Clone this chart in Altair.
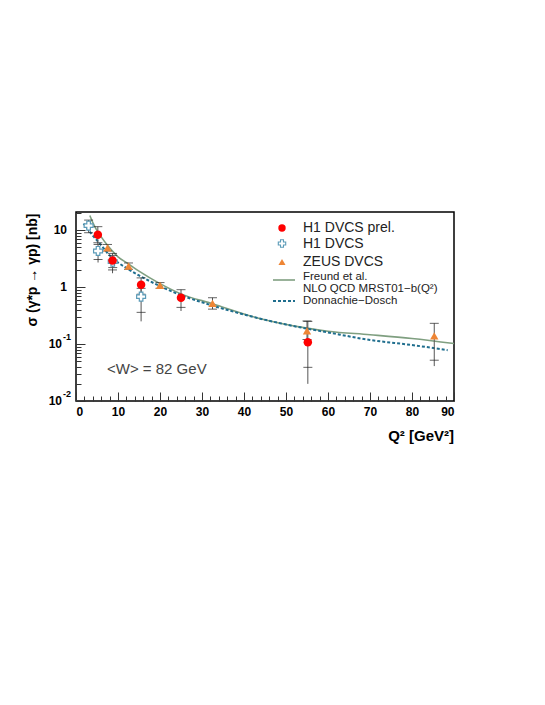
import altair as alt
import pandas as pd

FONT = "Liberation Sans"

# ---------------- data ----------------
# H1 DVCS prel. (red filled circles)
q2_h1prel = [5.2, 8.7, 15.5, 25.0, 55.2]
sig_h1prel = [8.3, 2.93, 1.10, 0.65, 0.107]
h1prel_stat_lo = [6.0, 2.0, 0.75, 0.44, 0.039]
h1prel_stat_hi = [11.5, 3.9, 1.45, 0.90, 0.25]
h1prel_tot_lo = [5.5, 1.75, 0.70, 0.38, 0.020]

# H1 DVCS (open crosses)
q2_h1 = [3.0, 5.25, 8.75, 15.5]
sig_h1 = [12.0, 4.3, 2.8, 0.68]
h1_lo = [9.0, 3.05, 2.2, 0.36]
h1_hi = [15.0, 5.6, 3.6, 0.95]
h1_tot_lo = [9.0, 2.7, 2.2, 0.25]

# ZEUS DVCS (orange triangles)
q2_zeus = [7.5, 12.5, 20.0, 32.5, 55.0, 85.3]
sig_zeus = [4.9, 2.33, 1.07, 0.52, 0.17, 0.139]
zeus_lo = [4.3, 2.05, 0.95, 0.41, 0.12, 0.052]
zeus_hi = [5.6, 2.65, 1.2, 0.65, 0.254, 0.231]
zeus_tot_lo = [4.3, 2.05, 0.95, 0.41, 0.12, 0.041]

# Freund et al. NLO QCD MRST01-b(Q2) (green solid)
q2_freund = [3.3, 4, 5, 6, 7.5, 10, 12.5, 15, 20, 25, 32.5, 43, 55, 60, 70, 80, 90]
sig_freund = [18, 13.5, 9.8, 7.6, 5.4, 3.4, 2.55, 1.9, 1.15, 0.76, 0.51, 0.29, 0.19,
              0.168, 0.146, 0.125, 0.102]

# Donnachie-Dosch (blue dashed)
q2_dd = [1.8, 3, 4, 5, 6, 8, 10, 12.5, 15, 20, 25, 30, 40, 50, 60, 70, 80, 88.5]
sig_dd = [13.0, 10.0, 8.0, 6.6, 5.4, 3.6, 2.7, 2.05, 1.6, 1.04, 0.72, 0.54, 0.33, 0.22,
          0.16, 0.118, 0.096, 0.078]

# axis ticks / labels
x_major = [0, 10, 20, 30, 40, 50, 60, 70, 80, 90]
x_minor = [v for v in range(2, 90, 2) if v % 10 != 0]
y_major = [0.01, 0.1, 1, 10]
y_minor = [m * d for d in (0.01, 0.1, 1) for m in range(2, 10)] + [20]
y_plain_vals = [10, 1]
y_plain_text = ["10", "1"]
y_exp_vals = [0.1, 0.01]
y_exp_base = ["10", "10"]
y_exp_sup = ["-1", "-2"]

legend_labels = ["H1 DVCS prel.", "H1 DVCS", "ZEUS DVCS", "Freund et al.",
                 "NLO QCD MRST01\u2212b(Q\u00b2)", "Donnachie\u2212Dosch"]

# ---------------- scales ----------------
xs = alt.Scale(domain=[0, 90], nice=False, zero=False)
ys = alt.Scale(type="log", domain=[0.01, 20.8], nice=False)

RED = "#ff0000"
ORANGE = "#ee8535"
CROSS = "#5b9bb8"
GREEN = "#7f9f80"
BLUE = "#1f6e8e"

freund = pd.DataFrame({"x": q2_freund, "y": sig_freund})
dd = pd.DataFrame({"x": q2_dd, "y": sig_dd})
h1prel = pd.DataFrame({"x": q2_h1prel, "y": sig_h1prel, "lo": h1prel_stat_lo,
                       "hi": h1prel_stat_hi, "tlo": h1prel_tot_lo})
h1 = pd.DataFrame({"x": q2_h1, "y": sig_h1, "lo": h1_lo, "hi": h1_hi, "tlo": h1_tot_lo})
zeus = pd.DataFrame({"x": q2_zeus, "y": sig_zeus, "lo": zeus_lo, "hi": zeus_hi,
                     "tlo": zeus_tot_lo})


def X(field="x"):
    return alt.X(f"{field}:Q", scale=xs, axis=None)


def Y(field="y"):
    return alt.Y(f"{field}:Q", scale=ys, axis=None)


layers = []

# curves
layers.append(alt.Chart(freund).mark_line(color=GREEN, strokeWidth=1.6, interpolate="monotone")
              .encode(x=X(), y=Y()))
layers.append(alt.Chart(dd).mark_line(color=BLUE, strokeWidth=2, strokeDash=[3, 2],
                                      interpolate="monotone")
              .encode(x=X(), y=Y()))


def errbars(df, color_line="#555555"):
    out = []
    out.append(alt.Chart(df).mark_rule(color=color_line, strokeWidth=1)
               .encode(x=X(), y=Y("tlo"), y2="hi:Q"))
    for f in ("lo", "hi"):
        out.append(alt.Chart(df).mark_tick(orient="horizontal", size=9, thickness=1,
                                           color="#222222")
                   .encode(x=X(), y=Y(f)))
    return out


layers += errbars(h1)
layers += errbars(zeus)
layers += errbars(h1prel)

layers.append(alt.Chart(h1).mark_point(shape="cross", filled=True, fill="white",
                                       stroke=CROSS, strokeWidth=1.2, size=80, opacity=1)
              .encode(x=X(), y=Y()))
layers.append(alt.Chart(zeus).mark_point(shape="triangle-up", filled=True, color=ORANGE,
                                         size=70, opacity=1)
              .encode(x=X(), y=Y()))
layers.append(alt.Chart(h1prel).mark_point(shape="circle", filled=True, color=RED,
                                           size=72, opacity=1)
              .encode(x=X(), y=Y()))

# ---------------- axes (labels + inward ticks) ----------------
xlab_axis = alt.Axis(values=x_major, ticks=False, domain=False, grid=False, title=None,
                     labelFont=FONT, labelFontWeight="bold", labelFontSize=12,
                     labelColor="black", labelPadding=5, orient="bottom")
xmaj_axis = alt.Axis(values=x_major, labels=False, ticks=True, tickSize=9, offset=-9,
                     domain=False, grid=False, title=None, tickColor="#333333",
                     orient="bottom")
xmin_axis = alt.Axis(values=x_minor, labels=False, ticks=True, tickSize=5, offset=-5,
                     domain=False, grid=False, title=None, tickColor="#333333",
                     orient="bottom")
ymaj_axis = alt.Axis(values=y_major, labels=False, ticks=True, tickSize=9, offset=-9,
                     domain=False, grid=False, title=None, tickColor="#333333",
                     orient="left")
ymin_axis = alt.Axis(values=y_minor, labels=False, ticks=True, tickSize=5, offset=-5,
                     domain=False, grid=False, title=None, tickColor="#333333",
                     orient="left")

for xa in (xlab_axis, xmaj_axis, xmin_axis):
    layers.append(alt.Chart(freund).mark_point(opacity=0)
                  .encode(x=alt.X("x:Q", scale=xs, axis=xa), y=Y()))
for ya in (ymaj_axis, ymin_axis):
    layers.append(alt.Chart(freund).mark_point(opacity=0)
                  .encode(x=X(), y=alt.Y("y:Q", scale=ys, axis=ya)))

# y tick labels as text
yplain = pd.DataFrame({"v": y_plain_vals, "t": y_plain_text})
yexp = pd.DataFrame({"v": y_exp_vals, "t": y_exp_base, "s": y_exp_sup})
layers.append(alt.Chart(yplain).mark_text(align="right", baseline="middle", font=FONT,
                                          fontWeight="bold", fontSize=12, color="black")
              .encode(x=alt.value(-9), y=Y("v"), text="t:N"))
layers.append(alt.Chart(yexp).mark_text(align="right", baseline="middle", font=FONT,
                                        fontWeight="bold", fontSize=12, color="black")
              .encode(x=alt.value(-14), y=Y("v"), text="t:N"))
layers.append(alt.Chart(yexp).mark_text(align="left", baseline="middle", font=FONT,
                                        fontWeight="bold", fontSize=9, color="black", dy=-7)
              .encode(x=alt.value(-13), y=Y("v"), text="s:N"))


def one(text):
    return alt.Chart(pd.DataFrame({"t": [text]}))


# axis titles
layers.append(one("\u03c3 (\u03b3*p \u2192 \u03b3p)  [nb]").mark_text(
    angle=270, align="center", baseline="middle", font=FONT, fontWeight="bold",
    fontSize=14, color="black").encode(x=alt.value(-43), y=alt.value(58), text="t:N"))
layers.append(one("Q\u00b2 [GeV\u00b2]").mark_text(
    align="right", baseline="middle", font=FONT, fontWeight="bold", fontSize=15,
    color="black").encode(x=alt.value(378), y=alt.value(224), text="t:N"))

# annotation
layers.append(one("<W> = 82 GeV").mark_text(
    align="left", baseline="middle", font=FONT, fontSize=15, color="#444444")
    .encode(x=alt.value(31), y=alt.value(157), text="t:N"))

# legend
LX = 206
TX = 227
layers.append(one("a").mark_point(shape="circle", filled=True, color=RED, size=55, opacity=1)
              .encode(x=alt.value(LX), y=alt.value(16)))
layers.append(one("a").mark_point(shape="cross", filled=True, fill="white", stroke=CROSS,
                                  strokeWidth=1.1, size=55, opacity=1)
              .encode(x=alt.value(LX), y=alt.value(31.5)))
layers.append(one("a").mark_point(shape="triangle-up", filled=True, color=ORANGE, size=50,
                                  opacity=1)
              .encode(x=alt.value(LX), y=alt.value(50)))
layers.append(one("a").mark_rule(color=GREEN, strokeWidth=1.6)
              .encode(x=alt.value(197), x2=alt.value(219), y=alt.value(68)))
layers.append(one("a").mark_rule(color=BLUE, strokeWidth=2, strokeDash=[3, 2])
              .encode(x=alt.value(197), x2=alt.value(219), y=alt.value(89)))
for lab, yy, fs in zip(legend_labels, [15.5, 31.5, 50, 65, 77, 89],
                       [14, 14, 14, 11.5, 11.5, 11.5]):
    layers.append(one(lab).mark_text(align="left", baseline="middle", font=FONT,
                                     fontSize=fs, color="#222222")
                  .encode(x=alt.value(TX), y=alt.value(yy), text="t:N"))

chart = (alt.layer(*layers)
         .resolve_axis(x="independent", y="independent")
         .properties(width=378, height=189,
                     autosize=alt.AutoSizeParams(type="none"),
                     padding={"left": 68, "top": 204, "right": 50, "bottom": 60})
         .configure_view(stroke="black", strokeWidth=1.5))

chart.save("out.html", embed_options={"renderer": "svg", "actions": False})
